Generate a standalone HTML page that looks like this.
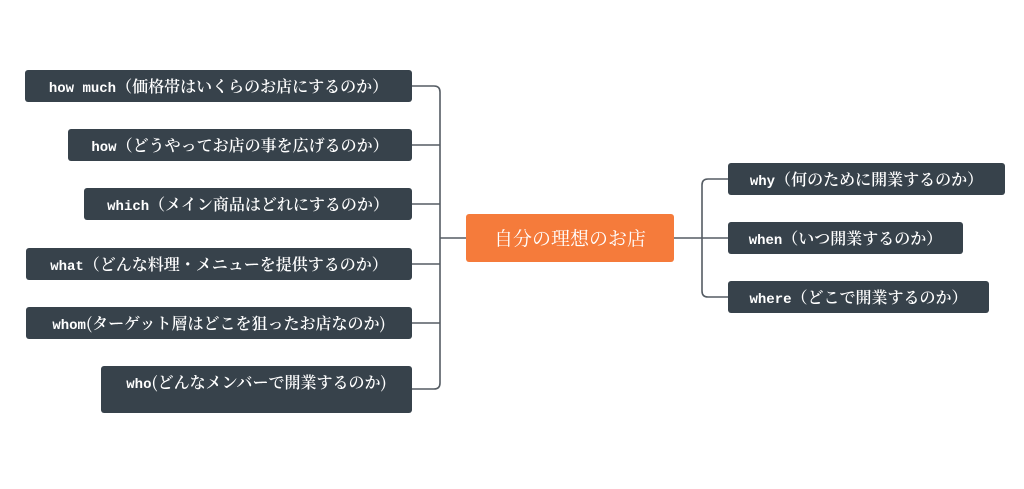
<!DOCTYPE html>
<html><head><meta charset="utf-8"><style>
body{margin:0;width:1024px;height:489px;background:#fff;position:relative;overflow:hidden;font-family:"Liberation Serif","Noto Serif CJK SC",serif}
.b{position:absolute;background:#37424b;color:#fff;border-radius:3px;font-size:16px;height:32px;line-height:31px;text-align:center;white-space:nowrap;font-family:"Noto Serif CJK SC",serif;font-weight:600;overflow:hidden}
.b i{font-style:normal;font-family:"Liberation Mono",monospace;font-size:14px;font-weight:bold}
.c{position:absolute;left:466px;top:214px;width:208px;height:48px;background:#f57b3b;border-radius:3px;color:#fff;font-size:19px;line-height:47px;text-align:center;font-family:"Noto Serif CJK SC",serif;overflow:hidden}
</style></head><body>
<svg width="1024" height="489" style="position:absolute;left:0;top:0" fill="none" stroke="#555c63" stroke-width="1.6">
<path d="M412 86 H434 Q440 86 440 92 V383 Q440 389 434 389 H412"/>
<path d="M412 145 H440 M412 204 H440 M412 264 H440 M412 323 H440 M440 238 H466"/>
<path d="M728 179 H708 Q702 179 702 185 V291 Q702 297 708 297 H728 M702 238 H728 M674 238 H702"/>
</svg>
<div class="b" style="left:25px;top:70px;width:387px"><i>how much</i>（価格帯はいくらのお店にするのか）</div>
<div class="b" style="left:68px;top:129px;width:344px"><i>how</i>（どうやってお店の事を広げるのか）</div>
<div class="b" style="left:84px;top:188px;width:328px"><i>which</i>（メイン商品はどれにするのか）</div>
<div class="b" style="left:26px;top:248px;width:386px"><i>what</i>（どんな料理・メニューを提供するのか）</div>
<div class="b" style="left:26px;top:307px;width:386px"><i>whom</i>(ターゲット層はどこを狙ったお店なのか)</div>
<div class="b" style="left:101px;top:366px;width:311px;height:47px"><i>who</i>(どんなメンバーで開業するのか)</div>
<div class="c">自分の理想のお店</div>
<div class="b" style="left:728px;top:163px;width:277px"><i>why</i>（何のために開業するのか）</div>
<div class="b" style="left:728px;top:222px;width:235px"><i>when</i>（いつ開業するのか）</div>
<div class="b" style="left:728px;top:281px;width:261px"><i>where</i>（どこで開業するのか）</div>
</body></html>
